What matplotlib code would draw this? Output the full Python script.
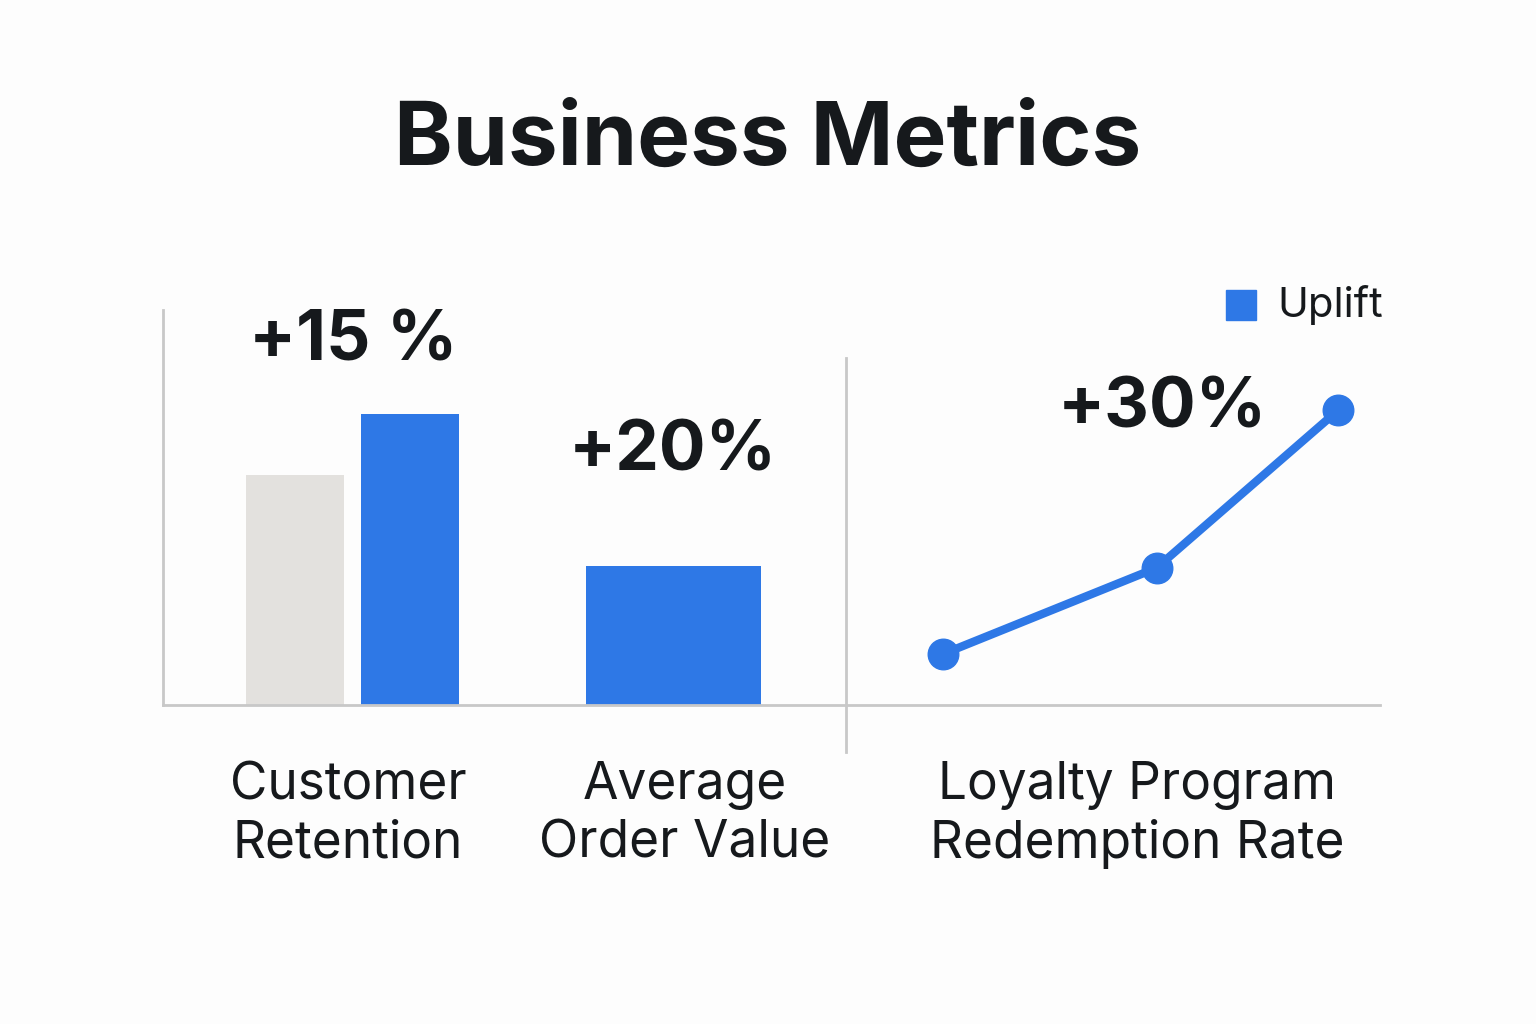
import matplotlib.pyplot as plt
from matplotlib.lines import Line2D
from matplotlib.patches import Rectangle

plt.rcParams['font.family'] = 'Inter'

BLUE = '#2e78e6'
GRAY = '#e3e1de'
AXIS = '#c8c8c8'
TEXT = '#16191c'

# data (percent of axis height)
baseline_value = 58.2
retention_uplift = 73.7
aov_uplift = 35.2
loyalty_x = [0.49, 1.57, 2.49]
loyalty_values = [12.9, 34.7, 74.7]
uplift_labels = ['+15 %', '+20%', '+30%']
categories = ['Customer\nRetention', 'Average\nOrder Value',
              'Loyalty Program\nRedemption Rate']

W, H = 1536, 1024
fig = plt.figure(figsize=(W / 100, H / 100), dpi=100, facecolor='#fdfdfd')


def box(x0, x1, ytop, ybot):
    return [x0 / W, 1 - ybot / H, (x1 - x0) / W, (ybot - ytop) / H]


# left panel: bars
ax1 = fig.add_axes(box(163, 846, 310, 705))
ax1.set_xlim(0, 683)
ax1.set_ylim(0, 100)
ax1.bar(132, baseline_value, width=98, color=GRAY)
ax1.bar(247, retention_uplift, width=98, color=BLUE)
ax1.bar(510, aov_uplift, width=175, color=BLUE)
ax1.text(190, 92, uplift_labels[0], ha='center', va='center',
         fontsize=50, fontweight='bold', color=TEXT)
ax1.text(510, 64, uplift_labels[1], ha='center', va='center',
         fontsize=50, fontweight='bold', color=TEXT)

# right panel: line
ax2 = fig.add_axes(box(846, 1380, 310, 705))
ax2.set_xlim(0, 2.7)
ax2.set_ylim(0, 100)
ax2.plot(loyalty_x, loyalty_values, color=BLUE, lw=6, marker='o',
         markersize=22, solid_capstyle='round')
ax2.text(1.6, 75, uplift_labels[2], ha='center', va='center',
         fontsize=50, fontweight='bold', color=TEXT)

for ax in (ax1, ax2):
    ax.set_facecolor('none')
    ax.set_xticks([])
    ax.set_yticks([])
    for s in ('top', 'right'):
        ax.spines[s].set_visible(False)
    ax.spines['bottom'].set_color(AXIS)
    ax.spines['bottom'].set_linewidth(2)
ax1.spines['left'].set_color(AXIS)
ax1.spines['left'].set_linewidth(2)
ax2.spines['left'].set_visible(False)

# divider between panels
fig.add_artist(Line2D([846 / W, 846 / W], [1 - 358 / H, 1 - 752 / H],
                      color=AXIS, lw=2))

# legend
fig.add_artist(Rectangle((1226 / W, 1 - 320 / H), 30 / W, 30 / H,
                         color=BLUE))
fig.text(1277 / W, 1 - 305 / H, 'Uplift', fontsize=30, color=TEXT,
         va='center', ha='left')

# title and category labels
fig.text(0.5, 1 - 142 / H, 'Business Metrics', fontsize=64,
         fontweight='bold', color=TEXT, ha='center', va='center')
for xp, lab in zip([348, 685, 1137], categories):
    fig.text(xp / W, 1 - 815 / H, lab, fontsize=37, color=TEXT,
             ha='center', va='center', linespacing=1.25)

fig.savefig('out.png', dpi=100, facecolor=fig.get_facecolor())
